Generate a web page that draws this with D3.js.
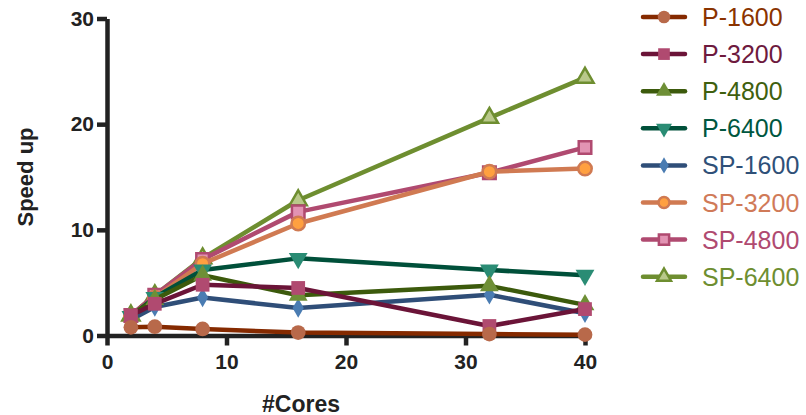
<!DOCTYPE html>
<html>
<head>
<meta charset="utf-8">
<script src="https://cdn.jsdelivr.net/npm/d3@7"></script>
<style>
  body { margin: 0; background: #ffffff; }
  svg { font-family: "Liberation Sans", Arial, sans-serif; }
</style>
</head>
<body>
<div id="SpeedGraph"></div>
<script>
// data
var cores = [2, 4, 8, 16, 32, 40];
var p1600 = [0.78, 0.83, 0.62, 0.28, 0.14, 0.08];
var p3200 = [1.9, 3.0, 4.8, 4.5, 0.9, 2.5];
var p4800 = [1.9, 3.4, 5.7, 3.8, 4.7, 2.9];
var p6400 = [1.8, 3.6, 6.2, 7.3, 6.2, 5.7];
var sp1600 = [1.5, 2.7, 3.6, 2.6, 3.85, 2.1];
var sp3200 = [1.8, 3.6, 6.8, 10.6, 15.5, 15.8];
var sp4800 = [1.9, 3.8, 7.2, 11.7, 15.4, 17.8];
var sp6400 = [1.9, 3.8, 7.3, 12.8, 20.6, 24.4];
var seriesNames = ['P-1600', 'P-3200', 'P-4800', 'P-6400', 'SP-1600', 'SP-3200', 'SP-4800', 'SP-6400'];
var xTicks = [0, 10, 20, 30, 40];
var yTicks = [0, 10, 20, 30];

// line colour, marker fill, marker stroke, shape, label colour
var styles = [
  {line: '#852a00', fill: '#b8694a', stroke: 'none', shape: 'circle', text: '#8a3300'},
  {line: '#6b1438', fill: '#b04a70', stroke: 'none', shape: 'square', text: '#6e1a3e'},
  {line: '#3c5a0c', fill: '#6e8f36', stroke: 'none', shape: 'triangle', text: '#40600e'},
  {line: '#00503a', fill: '#2a8c74', stroke: 'none', shape: 'triangleDown', text: '#00573f'},
  {line: '#2f4e78', fill: '#4a7cb2', stroke: 'none', shape: 'diamond', text: '#2f5078'},
  {line: '#d07a52', fill: '#ffa040', stroke: '#d07a52', shape: 'circle', text: '#d07a58'},
  {line: '#b04a70', fill: '#e293b3', stroke: '#b04a70', shape: 'square', text: '#b04a70'},
  {line: '#6e8e30', fill: '#b9c98a', stroke: '#6e8e30', shape: 'triangle', text: '#6e8e30'}
];

var allSeries = [p1600, p3200, p4800, p6400, sp1600, sp3200, sp4800, sp6400];

function build_graph(){
    var svg = d3.select('#SpeedGraph')
        .append('svg')
            .attr('width', 806)
            .attr('height', 415);

    var margin = {top: 18.5, left: 107};
    var width = 478;
    var height = 317;

    var g = svg.append('g')
        .attr('transform', 'translate(' + margin.left + ',' + margin.top + ')');

    var x = d3.scaleLinear().domain([0, 40]).range([0, width]);
    var y = d3.scaleLinear().domain([0, 30]).range([height, 0]);

    draw_axes(g, x, y, width, height);

    // later series go underneath, first series on top
    for (var i = allSeries.length - 1; i >= 0; i--) {
        add_series(g, allSeries[i], styles[i], x, y);
    }

    add_legend(svg);
}

function draw_axes(g, x, y, width, height){
    var xAxis = g.append('g')
        .attr('class', 'axis')
        .attr('transform', 'translate(0,' + height + ')')
        .call(d3.axisBottom(x)
            .tickValues(xTicks)
            .tickSize(10)
            .tickSizeOuter(0)
            .tickPadding(9));

    var yAxis = g.append('g')
        .attr('class', 'axis')
        .call(d3.axisLeft(y)
            .tickValues(yTicks)
            .tickSize(10)
            .tickSizeOuter(0)
            .tickPadding(3));

    g.selectAll('.axis path, .axis line')
        .style('stroke', '#222')
        .style('stroke-width', 4.5);
    g.selectAll('.axis text')
        .style('fill', '#222')
        .style('font-size', '21px')
        .style('font-weight', 'bold')
        .style('font-family', '"Liberation Sans", Arial, sans-serif');

    // axis titles
    g.append('text')
        .attr('x', 194)
        .attr('y', 393)
        .attr('text-anchor', 'middle')
        .style('font-size', '23px')
        .style('font-weight', 'bold')
        .style('fill', '#222')
        .text('#Cores');

    g.append('text')
        .attr('transform', 'translate(-74,' + (height / 2) + ') rotate(-90)')
        .attr('text-anchor', 'middle')
        .style('font-size', '22px')
        .style('font-weight', 'bold')
        .style('fill', '#222')
        .text('Speed up');
}

function symbol_path(shape, size){
    if (shape == 'circle') return d3.symbol(d3.symbolCircle, size * 0.95)();
    if (shape == 'square') return d3.symbol(d3.symbolSquare, size * 1.05)();
    if (shape == 'diamond') return d3.symbol(d3.symbolDiamond, size * 0.6)();
    return d3.symbol(d3.symbolTriangle, size * 0.85)();
}

function add_series(g, values, st, x, y){
    var data = cores.map(function(c, i){ return {c: c, v: values[i]}; });

    var valueline = d3.line()
        .x(function(d) { return x(d.c); })
        .y(function(d) { return y(d.v); });

    g.append('path')
        .datum(data)
        .style('fill', 'none')
        .style('stroke', st.line)
        .style('stroke-width', 4.5)
        .style('stroke-linejoin', 'round')
        .attr('d', valueline);

    var hasStroke = st.stroke != 'none';
    g.selectAll(null)
        .data(data)
        .enter().append('path')
        .attr('d', symbol_path(st.shape, hasStroke ? 150 : 180))
        .attr('transform', function(d) {
            var rot = st.shape == 'triangleDown' ? ' rotate(180)' : '';
            return 'translate(' + x(d.c) + ',' + y(d.v) + ')' + rot;
        })
        .style('fill', st.fill)
        .style('stroke', st.stroke)
        .style('stroke-width', hasStroke ? 2.5 : 0);
}

function add_legend(svg){
    var legend = svg.append('g').attr('class', 'legend');

    seriesNames.forEach(function(name, i){
        var st = styles[i];
        var ly = 17 + i * 37.1;
        var hasStroke = st.stroke != 'none';

        legend.append('line')
            .attr('x1', 643)
            .attr('x2', 685)
            .attr('y1', ly)
            .attr('y2', ly)
            .style('stroke', st.line)
            .style('stroke-width', 4.5)
            .style('stroke-linecap', 'round');

        legend.append('path')
            .attr('d', symbol_path(st.shape, hasStroke ? 100 : 130))
            .attr('transform', 'translate(664,' + ly + ')' + (st.shape == 'triangleDown' ? ' rotate(180)' : ''))
            .style('fill', st.fill)
            .style('stroke', st.stroke)
            .style('stroke-width', hasStroke ? 2.5 : 0);

        legend.append('text')
            .attr('x', 702)
            .attr('y', ly)
            .attr('dy', '0.36em')
            .style('font-size', '25px')
            .style('fill', st.text)
            .text(name);
    });
}

build_graph();
</script>
</body>
</html>
